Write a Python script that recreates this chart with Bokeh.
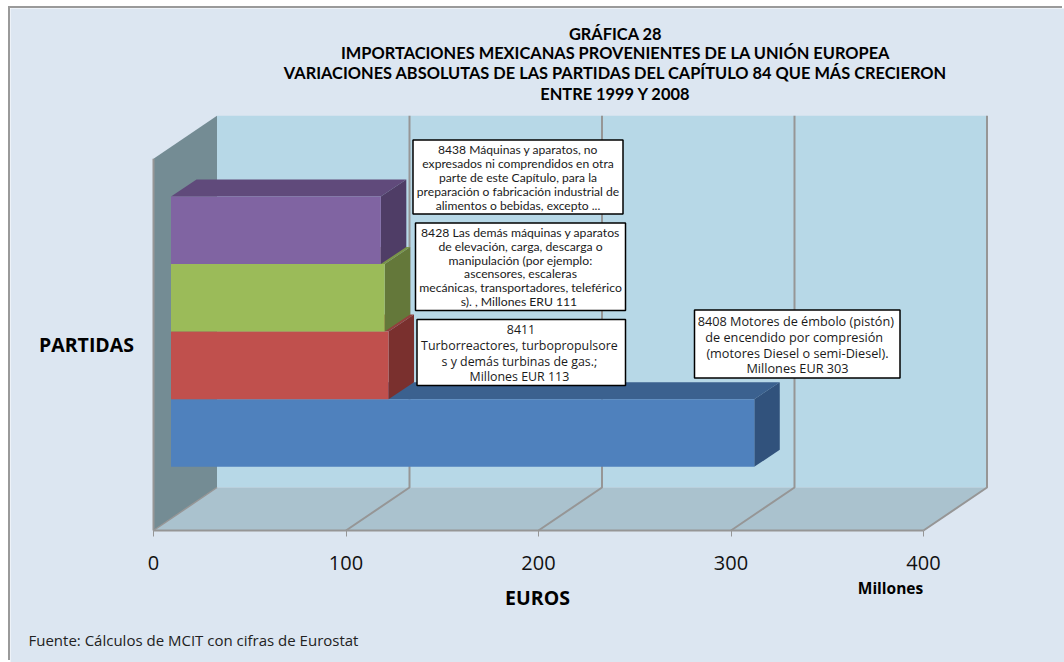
from bokeh.plotting import figure
from bokeh.embed import file_html
from bokeh.resources import INLINE
from bokeh.models import Label, BoxAnnotation

# ---- data ----
categories = ["8408", "8411", "8428", "8438"]
values = [303, 113, 111, 109]
front_colors = ["#4F81BD", "#C0504D", "#9BBB59", "#8064A2"]
top_colors = ["#3B618F", "#92403D", "#7A9448", "#604A7B"]
side_colors = ["#31527C", "#7A302E", "#64783A", "#4F3D66"]
x_ticks = [0, 100, 200, 300, 400]

title_lines = [
    "GRÁFICA 28",
    "IMPORTACIONES MEXICANAS PROVENIENTES DE LA UNIÓN EUROPEA",
    "VARIACIONES ABSOLUTAS DE LAS PARTIDAS DEL CAPÍTULO 84 QUE MÁS CRECIERON",
    "ENTRE 1999 Y 2008",
]
title_y = [33, 52, 72, 93]

callouts = [
    dict(box=(694, 899.5, 309.5, 377.5), cx=797, size=12.7, font="Open Sans",
         lines=["8408 Motores  de émbolo (pistón)", "de encendido  por  compresión",
                "(motores Diesel o semi-Diesel).", "Millones EUR 303"],
         ys=[320, 336, 352, 367]),
    dict(box=(416.5, 625, 319, 385), cx=520.5, size=12.4, font="Open Sans",
         lines=["8411", "Turborreactores,  turbopropulsore", "s y demás turbinas  de gas.;",
                "Millones EUR  113"],
         ys=[329, 345, 361, 376]),
    dict(box=(415, 625, 222.5, 310), cx=520, size=12.2, font="Lato",
         lines=["8428 Las demás máquinas y aparatos", "de elevación, carga, descarga o",
                "manipulación (por ejemplo:", "ascensores, escaleras",
                "mecánicas, transportadores, teleférico", "s). ,  Millones ERU 111"],
         ys=[232, 246, 260, 273, 287, 301]),
    dict(box=(412.5, 622.5, 139.5, 213.5), cx=517.5, size=12.1, font="Lato",
         lines=["8438 Máquinas y aparatos, no", "expresados ni comprendidos en otra",
                "parte de este Capítulo, para la", "preparación o fabricación industrial de",
                "alimentos o bebidas, excepto ..."],
         ys=[149, 163, 177, 191, 205]),
]

# ---- layout constants (picture pixels) ----
OX, OY = 10, 8         # where the figure starts in the picture
W, H = 1054, 654
FLOOR_Y = 530          # picture y of the value axis
X0 = 153.0             # picture x of value 0
PX_PER_UNIT = 1.925
BAND = 67.6            # pixels per category band
SLOTS = 5.5            # 4 bands + 0.75 gap each side
DEPTH_X, DEPTH_Y = 63.5 / PX_PER_UNIT, 43.0 / BAND
BAR_OFF_X, BAR_OFF_Y = 17.5 / PX_PER_UNIT, 13.0 / BAND
BAR_D_X, BAR_D_Y = 25.5 / PX_PER_UNIT, 17.0 / BAND
GAP = 0.75

GRID = "#969696"

p = figure(
    width=W, height=H, output_backend="svg", toolbar_location=None,
    x_range=((OX - X0) / PX_PER_UNIT, (OX + W - X0) / PX_PER_UNIT),
    y_range=((FLOOR_Y - OY - H) / BAND, (FLOOR_Y - OY) / BAND),
    y_axis_location=None, min_border=0, margin=(OY, 0, 0, OX),
    background_fill_color="#DCE6F1", border_fill_color="#DCE6F1",
    outline_line_color=None,
)
p.styles = {"box-shadow": "-2px -2px 0 0 #9A9A9A"}
p.grid.visible = False

xmax = x_ticks[-1]
# back wall
p.patch([DEPTH_X, xmax + DEPTH_X, xmax + DEPTH_X, DEPTH_X],
        [DEPTH_Y, DEPTH_Y, SLOTS + DEPTH_Y, SLOTS + DEPTH_Y],
        fill_color="#B7D8E7", line_color=None)
# floor
p.patch([0, xmax, xmax + DEPTH_X, DEPTH_X], [0, 0, DEPTH_Y, DEPTH_Y],
        fill_color="#AAC2CE", line_color=None)
# side wall
p.patch([0, DEPTH_X, DEPTH_X, 0], [0, DEPTH_Y, SLOTS + DEPTH_Y, SLOTS],
        fill_color="#748C94", line_color=None)
p.line([0, 0], [0, SLOTS], line_color=GRID, line_width=2)
p.line([0, DEPTH_X], [0, DEPTH_Y], line_color=GRID, line_width=1.5)
# grid lines on the floor and back wall
for t in x_ticks[1:]:
    p.line([t, t + DEPTH_X, t + DEPTH_X], [0, DEPTH_Y, SLOTS + DEPTH_Y],
           line_color=GRID, line_width=2)

# 3-D bars, lowest first so each upper bar overlaps the one below
for i, v in enumerate(values):
    x0, x1 = BAR_OFF_X, BAR_OFF_X + v
    y0, y1 = GAP + i + BAR_OFF_Y, GAP + i + 1 + BAR_OFF_Y
    p.patch([x0, x1, x1 + BAR_D_X, x0 + BAR_D_X], [y1, y1, y1 + BAR_D_Y, y1 + BAR_D_Y],
            fill_color=top_colors[i], line_color=None)
    p.patch([x1, x1 + BAR_D_X, x1 + BAR_D_X, x1], [y0, y0 + BAR_D_Y, y1 + BAR_D_Y, y1],
            fill_color=side_colors[i], line_color=None)
    p.patch([x0, x1, x1, x0], [y0, y0, y1, y1], fill_color=front_colors[i], line_color=None)

ax = p.xaxis[0]
ax.fixed_location = 0
ax.ticker = x_ticks
ax.bounds = (0, xmax)
ax.axis_line_color = GRID
ax.axis_line_width = 2
ax.major_tick_line_color = GRID
ax.major_tick_line_width = 1
ax.major_tick_in = 0
ax.major_tick_out = 6
ax.minor_tick_line_color = None
ax.major_label_text_font = "Open Sans"
ax.major_label_text_font_size = "20px"
ax.major_label_text_color = "#111111"
ax.major_label_standoff = 19


def label(text, x, y, size, bold=False, color="#000000", font="Lato", align="center"):
    p.add_layout(Label(
        x=x - OX, y=y - OY, x_units="canvas", y_units="canvas", text=text,
        text_font=font, text_font_size=f"{size}px", text_align=align,
        text_baseline="middle", text_color=color,
        text_font_style="bold" if bold else "normal"))


for line, y in zip(title_lines, title_y):
    label(line, 615, y, 16.4, bold=True)

label("PARTIDAS", 86, 344, 19.5, bold=True, font="Open Sans")
label("EUROS", 537, 597, 19.5, bold=True, font="Open Sans")
label("Millones", 890, 587, 15.5, bold=True, font="Open Sans")
label("Fuente:  Cálculos de MCIT con cifras de Eurostat", 28, 639, 15,
      color="#222222", font="Open Sans", align="left")

for c in callouts:
    l, r, t, b = c["box"]
    p.add_layout(BoxAnnotation(
        left=l - OX, right=r - OX, top=t - OY, bottom=b - OY,
        left_units="canvas", right_units="canvas", top_units="canvas", bottom_units="canvas",
        fill_color="#FFFFFF", fill_alpha=1, line_color="#000000", line_width=1.5, line_alpha=1))
    for line, y in zip(c["lines"], c["ys"]):
        label(line, c["cx"], y, c["size"], color="#1A1A1A", font=c["font"])

open("out.html", "w").write(file_html(p, INLINE))
